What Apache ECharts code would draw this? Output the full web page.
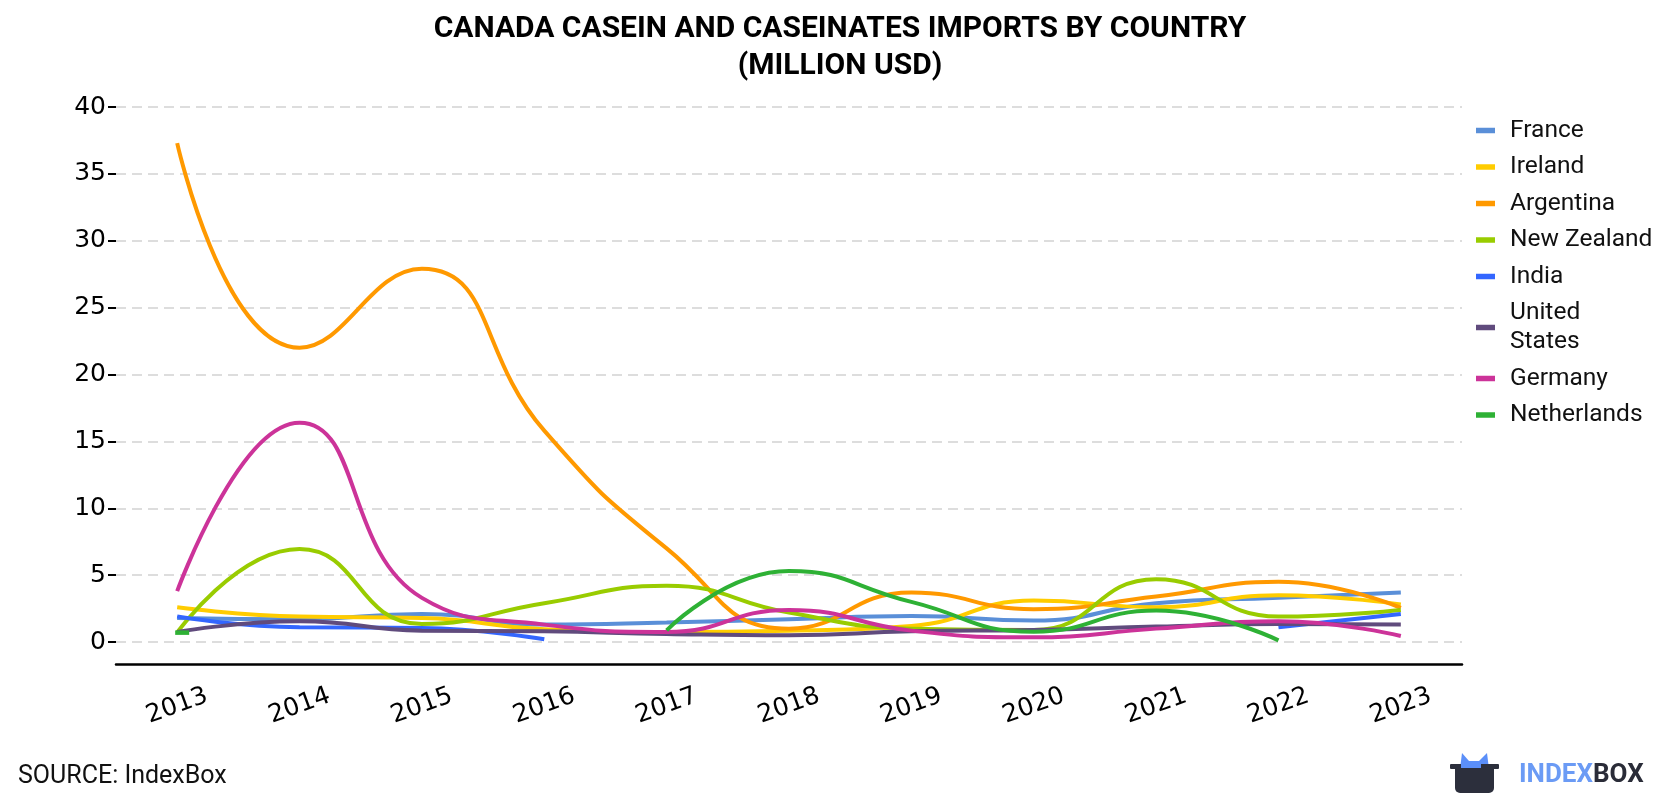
<!DOCTYPE html>
<html><head><meta charset="utf-8">
<script src="https://cdn.jsdelivr.net/npm/echarts@6/dist/echarts.min.js"></script>
<style>html,body{margin:0;padding:0;background:#fff}#c{width:1680px;height:800px}</style>
</head><body><div id="c"></div>
<script>
const years = ['2013','2014','2015','2016','2017','2018','2019','2020','2021','2022','2023'];
const france      = [1.8, 1.7, 2.1, 1.3, 1.45, 1.7, 1.95, 1.6, 2.9, 3.3, 3.7];
const ireland     = [2.6, 1.9, 1.8, 0.95, 0.75, 0.85, 1.2, 3.1, 2.6, 3.5, 2.8];
const argentina   = [37.3, 22.0, 27.9, 15.8, 7.0, 1.0, 3.7, 2.45, 3.4, 4.5, 2.55];
const newZealand  = [0.7, 6.95, 1.35, 2.9, 4.2, 2.2, 1.0, 0.9, 4.7, 1.9, 2.4];
const india       = [1.9, 1.1, 1.05, 0.2, null, null, null, null, null, 1.1, 2.1];
const unitedStates= [0.75, 1.55, 0.85, 0.8, 0.6, 0.5, 0.8, 0.9, 1.15, 1.35, 1.3];
const germany     = [3.8, 16.4, 3.3, 1.3, 0.75, 2.4, 0.85, 0.35, 1.0, 1.55, 0.45];
const netherlands = [0.7, null, null, null, 0.87, 5.3, 3.0, 0.77, 2.35, 0.12, null];

const seriesDefs = [
  ['France', france, '#5a8fd8'],
  ['Ireland', ireland, '#ffcc00'],
  ['Argentina', argentina, '#ff9900'],
  ['New Zealand', newZealand, '#99cc00'],
  ['India', india, '#3366ff'],
  ['United States', unitedStates, '#604b7d'],
  ['Germany', germany, '#cc3399'],
  ['Netherlands', netherlands, '#2eb135']
];

function buildData(arr) {
  return arr.map((v, i) => {
    const prev = i > 0 ? arr[i-1] : null;
    const next = i < arr.length - 1 ? arr[i+1] : null;
    if (v != null && prev == null && next == null) {
      return { value: v, symbol: 'rect', symbolSize: [14, 4.5], symbolOffset: [5, 0] };
    }
    return v;
  });
}

const chart = echarts.init(document.getElementById('c'), null, {renderer: 'canvas'});
const option = {
  animation: false,
  backgroundColor: '#fff',
  title: {
    text: 'CANADA CASEIN AND CASEINATES IMPORTS BY COUNTRY\n(MILLION USD)',
    left: 'center', top: 11, padding: 0,
    textStyle: {fontFamily: 'Roboto', fontWeight: 'bold', fontSize: 30, lineHeight: 37, color: '#000'}
  },
  grid: {left: 116, right: 218, top: 107, bottom: 158},
  legend: {
    orient: 'vertical', left: 1476, top: 116, padding: 0,
    icon: 'rect', itemWidth: 19, itemHeight: 5.5, itemGap: 7.5,
    formatter: n => n === 'United States' ? 'United\nStates' : n,
    textStyle: {fontFamily: 'Roboto', fontSize: 24.5, lineHeight: 29, color: '#111', padding: [0, 0, 0, 10]},
    data: seriesDefs.map(s => s[0])
  },
  xAxis: {
    type: 'category', data: years, boundaryGap: true, offset: 22,
    axisLine: {onZero: false, lineStyle: {color: '#000', width: 2.5}},
    axisTick: {alignWithLabel: true, length: 6, lineStyle: {color: '#000', width: 2}},
    axisLabel: {rotate: 20, align: 'center', verticalAlign: 'middle', margin: 42,
      fontFamily: 'DejaVu Sans', fontSize: 25, color: '#000'},
    splitLine: {show: false}
  },
  yAxis: {
    type: 'value', min: 0, max: 40, interval: 5,
    axisLine: {show: false},
    axisTick: {show: true, length: 8, lineStyle: {color: '#000', width: 2}},
    axisLabel: {fontFamily: 'DejaVu Sans', fontSize: 25, color: '#000', margin: 10},
    splitLine: {lineStyle: {type: [10, 6], color: '#dddddd', width: 2}}
  },
  series: seriesDefs.map(([name, arr, color]) => ({
    name, type: 'line', data: buildData(arr), smooth: 0.5,
    symbol: 'none', showSymbol: true, connectNulls: false,
    color: color,
    itemStyle: {color: color},
    lineStyle: {color: color, width: 4}
  })),
  graphic: [
    {type: 'text', left: 18, top: 764,
      style: {text: 'SOURCE: IndexBox', fontFamily: 'Roboto', fontSize: 25, fill: '#111'}},
    {type: 'group', left: 1450, top: 753, children: [
      {type: 'polygon', shape: {points: [[12,0],[19,8],[29,8],[37,0],[39,16],[10,16]]}, style: {fill: '#5b8ff9'}},
      {type: 'rect', shape: {x: 0, y: 11, width: 49, height: 5, r: 1}, style: {fill: '#2c2f3c'}},
      {type: 'rect', shape: {x: 11, y: 11, width: 20, height: 5}, style: {fill: '#5b8ff9'}},
      {type: 'rect', shape: {x: 5, y: 15, width: 39, height: 25, r: [0, 0, 5, 5]}, style: {fill: '#2c2f3c'}}
    ]},
    {type: 'text', left: 1519, top: 762,
      style: {text: '{a|INDEX}{b|BOX}', rich: {
        a: {fontFamily: 'Roboto', fontWeight: 'bold', fontSize: 26, fill: '#6b9bf5'},
        b: {fontFamily: 'Roboto', fontWeight: 'bold', fontSize: 26, fill: '#2a2c38'}
      }}}
  ]
};
chart.setOption(option);
</script>
</body></html>
